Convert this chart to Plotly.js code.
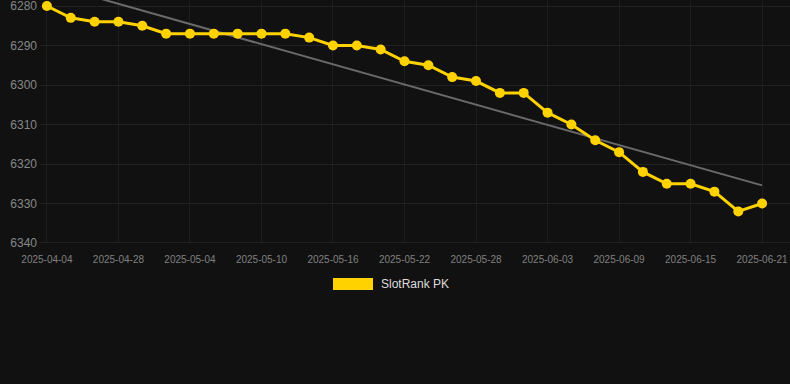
<!DOCTYPE html>
<html>
<head>
<meta charset="utf-8">
<script src="https://cdn.plot.ly/plotly-3.0.1.min.js"></script>
<style>
html,body{margin:0;padding:0;background:#111111;}
#chart{width:790px;height:384px;}
</style>
</head>
<body>
<div id="chart"></div>
<script>
var dates = ["2025-04-04","2025-04-24","2025-04-26","2025-04-28","2025-04-30","2025-05-02","2025-05-04","2025-05-06","2025-05-08","2025-05-10","2025-05-12","2025-05-14","2025-05-16","2025-05-18","2025-05-20","2025-05-22","2025-05-24","2025-05-26","2025-05-28","2025-05-30","2025-06-01","2025-06-03","2025-06-05","2025-06-07","2025-06-09","2025-06-11","2025-06-13","2025-06-15","2025-06-17","2025-06-19","2025-06-21"];
var ranks = [6280,6283,6284,6284,6285,6287,6287,6287,6287,6287,6287,6288,6290,6290,6291,6294,6295,6298,6299,6302,6302,6307,6310,6314,6317,6322,6325,6325,6327,6332,6330];
var seriesName = "SlotRank PK";

// least-squares trend computed from the data
var n = ranks.length, mx = 0, my = 0;
for (var i = 0; i < n; i++) { mx += i; my += ranks[i]; }
mx /= n; my /= n;
var sxy = 0, sxx = 0;
for (var i = 0; i < n; i++) { sxy += (i - mx) * (ranks[i] - my); sxx += (i - mx) * (i - mx); }
var slope = sxy / sxx, icpt = my - slope * mx;
var trend = ranks.map(function(_, i){ return icpt + slope * i; });

var traces = [
  {x: dates, y: trend, type: 'scatter', mode: 'lines', line: {color: '#6a6a6a', width: 2}, showlegend: false, hoverinfo: 'skip'},
  {x: dates, y: ranks, type: 'scatter', mode: 'lines+markers', name: seriesName,
   line: {color: '#ffd200', width: 3}, marker: {color: '#ffd200', size: 10}, showlegend: false, cliponaxis: false}
];

var layout = {
  width: 790, height: 384,
  paper_bgcolor: '#111111', plot_bgcolor: '#111111',
  margin: {l: 40, r: 0, t: 0, b: 141},
  font: {family: 'Liberation Sans, Arial, sans-serif', color: '#888888'},
  xaxis: {type: 'category', tickmode: 'linear', tick0: 0, dtick: 3, range: [-0.29, 31.17],
          showgrid: true, gridcolor: '#1e1e1e', zeroline: false, showline: false, ticks: '',
          ticklabelstandoff: 9, ticklabeloverflow: 'allow',
          tickfont: {size: 10, color: '#808080'}, fixedrange: true},
  yaxis: {range: [6340, 6278.48], tickmode: 'linear', dtick: 10, tick0: 6280, showgrid: true, gridcolor: '#222222',
          zeroline: false, showline: false, ticks: '', ticklabeloverflow: 'allow', ticklabelstandoff: 2,
          tickfont: {size: 12, color: '#888888'}},
  shapes: [
    {type: 'line', xref: 'paper', yref: 'y', x0: 0, x1: 1, y0: 6340, y1: 6340, line: {color: '#2e2e2e', width: 1}},
    {type: 'rect', xref: 'paper', yref: 'paper', x0: (333-40)/750, x1: (373-40)/750,
     y0: (384-141-278)/243, y1: (384-141-290)/243, fillcolor: '#ffd200', line: {width: 0}}
  ],
  annotations: [
    {xref: 'paper', yref: 'paper', x: (379-40)/750, y: (384-141-284)/243, xanchor: 'left', yanchor: 'middle',
     text: seriesName, showarrow: false, font: {size: 12, color: '#dddddd'}}
  ]
};
Plotly.newPlot('chart', traces, layout, {displayModeBar: false, staticPlot: true});
</script>
</body>
</html>
